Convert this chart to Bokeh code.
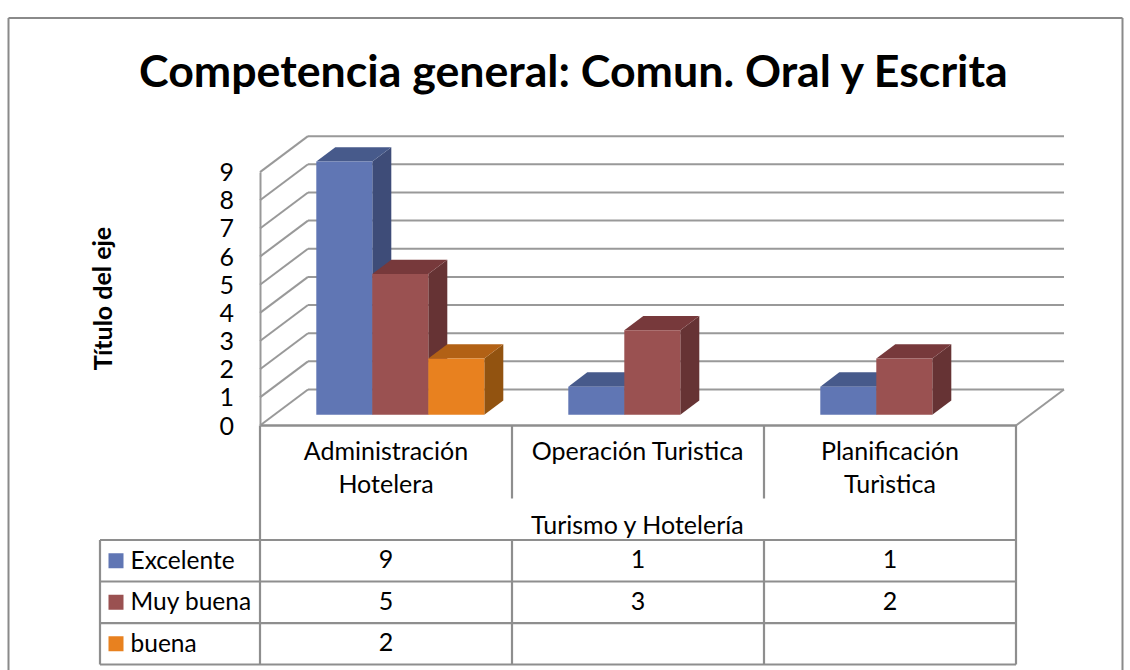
from bokeh.plotting import figure
from bokeh.models import LinearAxis, FixedTicker, Range1d
from bokeh.core.properties import value
from bokeh.embed import file_html
from bokeh.resources import INLINE

# ---- data ----
title_text = "Competencia general: Comun. Oral y Escrita"
y_title = "Título del eje"
group_label = "Turismo y Hotelería"
categories = ["Administración\nHotelera", "Operación Turistica", "Planificación\nTurìstica"]
series_names = ["Excelente", "Muy buena", "buena"]
excelente = [9, 1, 1]
muy_buena = [5, 3, 2]
buena = [2, None, None]
y_ticks = [0, 1, 2, 3, 4, 5, 6, 7, 8, 9]

# ---- styles / layout (pixels of the page) ----
FRONT = ["#6076B4", "#9A5151", "#E8811F"]
TOP = ["#475A8B", "#77393B", "#B26115"]
SIDE = ["#3E4C78", "#663334", "#925310"]
GRID = "#999999"
TABLE = "#8E8E8E"
FONT = "Lato"
X0_PX, Y0_PX = 259.5, 425
CAT_PX, UNIT_PX = 252, 28.15
FIG_W, FIG_H = 1130, 670

xd = lambda px: (px - X0_PX) / CAT_PX
yd = lambda px: (Y0_PX - px) / UNIT_PX

p = figure(width=FIG_W, height=FIG_H, output_backend="svg", toolbar_location=None,
           x_range=Range1d(xd(0), xd(FIG_W)), y_range=Range1d(yd(FIG_H), yd(0)),
           min_border=0, x_axis_type=None, y_axis_type=None, outline_line_color=None)
p.grid.visible = False
p.background_fill_color = "white"

def lines(xs, ys, color, width=2.0):
    p.multi_line(xs, ys, line_color=color, line_width=width)

# chart border (open at the page bottom)
border_l, border_r, border_t, border_b = xd(8), xd(1122), yd(17.5), yd(670)
lines([[border_l, border_l], [border_l, border_r], [border_r, border_r]],
      [[border_b, border_t], [border_t, border_t], [border_t, border_b]], "#8A8A8A")

# 3D walls
DX, DY = xd(307.5), 36 / UNIT_PX
n = len(categories)
back_x = [DX, DX + n]
grid_xs, grid_ys = [], []
for t in y_ticks:
    grid_xs += [back_x, [0, DX]]
    grid_ys += [[t + DY, t + DY], [t, t + DY]]
grid_xs.append([n, n + DX])
grid_ys.append([0, DY])
lines(grid_xs, grid_ys, GRID, 2.0)

# 3D bars
series = [excelente, muy_buena, buena]
bar_w = 56 / CAT_PX
off_x, off_y = 14.3 / CAT_PX, 10.7 / UNIT_PX
dep_x, dep_y = 19 / CAT_PX, 14.3 / UNIT_PX
for c in range(n):
    left = c + 0.5 + off_x - 1.5 * bar_w
    for s, vals in enumerate(series):
        v = vals[c]
        if v is None:
            continue
        x0 = left + s * bar_w
        x1 = x0 + bar_w
        y0 = off_y
        y1 = off_y + v
        p.patch([x1, x1 + dep_x, x1 + dep_x, x1], [y0, y0 + dep_y, y1 + dep_y, y1], color=SIDE[s], line_width=0)
        p.patch([x0, x0 + dep_x, x1 + dep_x, x1], [y1, y1 + dep_y, y1 + dep_y, y1], color=TOP[s], line_width=0)
        p.quad(left=x0, right=x1, bottom=y0, top=y1, color=FRONT[s], line_width=0)

# real axes placed on the chart
ya = LinearAxis(fixed_location=0, bounds=(0, y_ticks[-1]), ticker=FixedTicker(ticks=y_ticks),
                major_tick_line_color=None, minor_tick_line_color=None,
                axis_line_color=GRID, axis_line_width=2,
                major_label_standoff=20, major_label_text_font=FONT,
                major_label_text_font_size="25px", major_label_text_color="black")
p.add_layout(ya, "left")
xa = LinearAxis(fixed_location=0, bounds=(0, n), ticker=FixedTicker(ticks=[c + 0.5 for c in range(n)]),
                major_label_overrides={c + 0.5: categories[c] for c in range(n)},
                major_tick_line_color=None, minor_tick_line_color=None,
                axis_line_color=TABLE, axis_line_width=2.5,
                major_label_standoff=3, major_label_text_font=FONT,
                major_label_text_font_size="25px", major_label_text_color="black",
                major_label_text_line_height=1.1)
p.add_layout(xa, "below")

# data table
rows = [yd(539.5), yd(581), yd(622.7), yd(664)]
leg_x = xd(99.5)
txs, tys = [], []
for r in rows:
    txs.append([leg_x, n])
    tys.append([r, r])
txs += [[leg_x, leg_x], [0, 0], [n, n]]
tys += [[rows[0], rows[-1]], [0, rows[-1]], [0, rows[-1]]]
for c in range(1, n):
    txs += [[c, c], [c, c]]
    tys += [[0, yd(498)], [rows[0], rows[-1]]]
lines(txs, tys, TABLE, 2.2)

row_mid = [(rows[i] + rows[i + 1]) / 2 for i in range(3)]
label_lift = 1.5 / UNIT_PX
for s, vals in enumerate(series):
    p.rect(x=[xd(115.5)], y=[row_mid[s]], width=15 / CAT_PX, height=15 / UNIT_PX, color=FRONT[s], line_width=0)
    p.text([xd(130)], [row_mid[s] + label_lift], text=[series_names[s]], text_font=value(FONT), text_font_size="24.5px",
           text_align="left", text_baseline="middle", text_color="black")
    for c, v in enumerate(vals):
        if v is not None:
            p.text([c + 0.5], [row_mid[s] + label_lift], text=[str(v)], text_font=value(FONT), text_font_size="25px",
                   text_align="center", text_baseline="middle", text_color="black")

p.text([n / 2], [yd(523)], text=[group_label], text_font=value(FONT), text_font_size="25px",
       text_align="center", text_baseline="middle", text_color="black")
p.text([xd(101)], [yd(298)], text=[y_title], text_font=value(FONT), text_font_size="25px", text_font_style="bold",
       angle=1.5708, text_align="center", text_baseline="middle", text_color="black")
p.text([xd(574)], [yd(69)], text=[title_text], text_font=value(FONT), text_font_size="44.7px", text_font_style="bold",
       text_align="center", text_baseline="middle", text_color="black")

open("out.html", "w").write(file_html(p, INLINE))
